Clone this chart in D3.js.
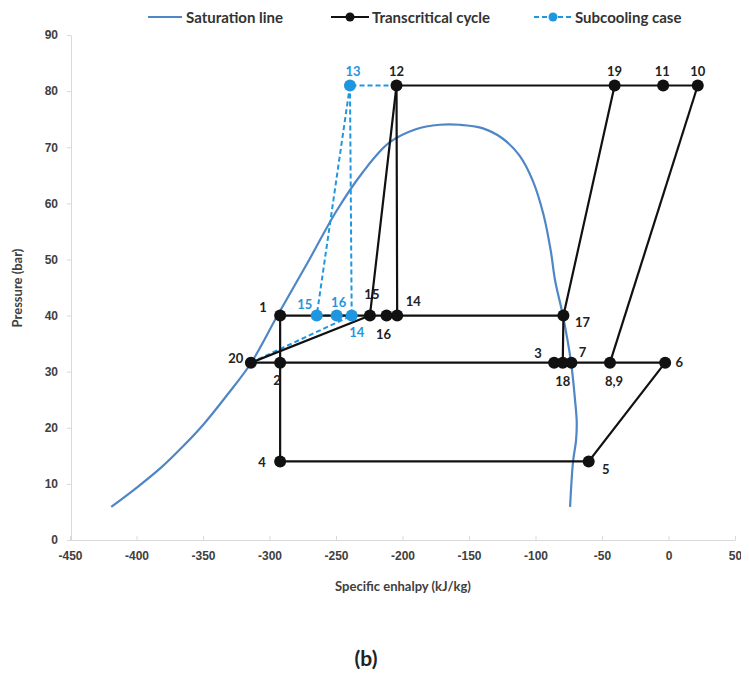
<!DOCTYPE html>
<html>
<head>
<meta charset="utf-8">
<script src="https://d3js.org/d3.v7.min.js"></script>
<style>
body { margin: 0; background: #fff; }
svg { font-family: Lato, "Open Sans", sans-serif; }
.tick text { font-size: 12px; font-weight: 700; fill: #404040; }
.axis path, .axis line { stroke: #d9d9d9; }
</style>
</head>
<body>
<svg id="chart"></svg>
<script>
// saturation dome
var satH = [-419, -400, -382, -365, -350, -332, -314, -294, -270, -250, -230, -210, -190, -172, -157, -140, -125, -112, -102, -94, -88.5, -85.3, -79.3, -73.3, -70.3, -69, -69.5, -71.8, -74];
var satP = [5.9, 9.3, 12.8, 16.7, 20.5, 25.8, 31.5, 40, 50, 58.5, 65.5, 70.8, 73.2, 74, 74, 73.4, 71.6, 68.5, 64, 58, 51.5, 46.3, 39.9, 31.7, 25, 21, 17.8, 13.9, 5.9];

// transcritical cycle state points
var cycleLabels = ["1", "2", "3", "4", "5", "6", "7", "8,9", "10", "11", "12", "14", "15", "16", "17", "18", "19", "20"];
var cycleH = [-292, -292, -86, -292, -60, -2.5, -73, -44, 22, -4, -204.5, -204, -224.5, -212, -79, -79.5, -40.5, -314];
var cycleP = [40, 31.6, 31.6, 14, 14, 31.6, 31.6, 31.6, 81, 81, 81, 40, 40, 40, 40, 31.6, 81, 31.6];
var cycleLines = [
  ["20", "2", "3", "18", "7", "8,9", "6"],
  ["1", "2", "4", "5", "6"],
  ["1", "15", "16", "14", "17"],
  ["20", "15", "12"],
  ["14", "12", "19", "11", "10"],
  ["19", "17", "18"],
  ["10", "8,9"]
];

// subcooling case state points (12 and 20 are shared with the cycle)
var subLabels = ["13", "15", "16", "14"];
var subH = [-239.5, -264.5, -249.5, -238.2];
var subP = [81, 40, 40, 40];
var subLines = [
  ["12", "13"],
  ["13", "15"],
  ["13", "14"],
  ["15", "16", "14"],
  ["20", "14"]
];

var xTicks = [-450, -400, -350, -300, -250, -200, -150, -100, -50, 0, 50];
var yTicks = [0, 10, 20, 30, 40, 50, 60, 70, 80, 90];

// label placement (offset from the marker)
var cycleOffsets = {
  "1": [-17, -9], "2": [-3, 17], "3": [-16, -10], "4": [-18, 1], "5": [17, 8],
  "6": [14, -1], "7": [11, -11], "8,9": [4, 18], "10": [0, -15], "11": [-1, -15],
  "12": [0, -15], "14": [16, -15], "15": [2, -22], "16": [-3, 18], "17": [19, 6],
  "18": [0, 18], "19": [0, -15], "20": [-15, -5]
};
var subOffsets = { "13": [3, -15], "15": [-12, -12], "16": [2, -14], "14": [5, 16] };

var black = "#111";
var blue = "#1f96e0";
var satColor = "#4f86c6";

var svg = d3.select("#chart").attr("width", 741).attr("height", 675);

var x = d3.scaleLinear().domain([-450, 50]).range([70, 735]);
var y = d3.scaleLinear().domain([0, 90]).range([540, 35]);

// axes
svg.append("g")
    .attr("class", "axis")
    .attr("transform", "translate(0,540)")
    .call(d3.axisBottom(x).tickValues(xTicks).tickFormat(function(d) { return String(d); })
        .tickSize(-4).tickPadding(14).tickSizeOuter(0))
    .selectAll("text").attr("dy", "0.5em");

svg.append("g")
    .attr("class", "axis")
    .attr("transform", "translate(71,0)")
    .call(d3.axisLeft(y).tickValues(yTicks).tickSize(4).tickPadding(9).tickSizeOuter(0));

svg.append("text")
    .attr("x", 403).attr("y", 591)
    .attr("text-anchor", "middle")
    .style("font-size", "13px").style("font-weight", 700).style("fill", "#404040")
    .text("Specific enhalpy (kJ/kg)");

svg.append("text")
    .attr("transform", "translate(22,288) rotate(-90)")
    .attr("text-anchor", "middle")
    .style("font-size", "13px").style("font-weight", 700).style("fill", "#404040")
    .text("Pressure (bar)");

// saturation line
var satLine = d3.line()
    .x(function(d, i) { return x(satH[i]); })
    .y(function(d, i) { return y(satP[i]); })
    .curve(d3.curveCatmullRom.alpha(0.5));

svg.append("path")
    .attr("d", satLine(satH))
    .attr("fill", "none")
    .attr("stroke", satColor)
    .attr("stroke-width", 2.2);

function pointOf(labels, hs, ps, name) {
  var i = labels.indexOf(name);
  return [x(hs[i]), y(ps[i])];
}

var line = d3.line();

// subcooling lines
subLines.forEach(function(seg) {
  var pts = seg.map(function(n) {
    if (subLabels.indexOf(n) >= 0) return pointOf(subLabels, subH, subP, n);
    return pointOf(cycleLabels, cycleH, cycleP, n);
  });
  svg.append("path")
      .attr("d", line(pts))
      .attr("fill", "none")
      .attr("stroke", blue)
      .attr("stroke-width", 2)
      .attr("stroke-dasharray", "5,3");
});

// cycle lines
cycleLines.forEach(function(seg) {
  var pts = seg.map(function(n) { return pointOf(cycleLabels, cycleH, cycleP, n); });
  svg.append("path")
      .attr("d", line(pts))
      .attr("fill", "none")
      .attr("stroke", black)
      .attr("stroke-width", 2.2);
});

// subcooling markers + labels
svg.selectAll(".subpt")
    .data(subLabels)
  .enter().append("circle")
    .attr("class", "subpt")
    .attr("cx", function(d, i) { return x(subH[i]); })
    .attr("cy", function(d, i) { return y(subP[i]); })
    .attr("r", 6)
    .attr("fill", blue);

svg.selectAll(".sublbl")
    .data(subLabels)
  .enter().append("text")
    .attr("class", "sublbl")
    .attr("x", function(d, i) { return x(subH[i]) + subOffsets[d][0]; })
    .attr("y", function(d, i) { return y(subP[i]) + subOffsets[d][1]; })
    .attr("text-anchor", "middle")
    .attr("dominant-baseline", "central")
    .style("font-size", "13px").style("font-weight", 700).style("fill", blue)
    .text(function(d) { return d; });

// cycle markers + labels
svg.selectAll(".cycpt")
    .data(cycleLabels)
  .enter().append("circle")
    .attr("class", "cycpt")
    .attr("cx", function(d, i) { return x(cycleH[i]); })
    .attr("cy", function(d, i) { return y(cycleP[i]); })
    .attr("r", 6)
    .attr("fill", black);

svg.selectAll(".cyclbl")
    .data(cycleLabels)
  .enter().append("text")
    .attr("class", "cyclbl")
    .attr("x", function(d, i) { return x(cycleH[i]) + cycleOffsets[d][0]; })
    .attr("y", function(d, i) { return y(cycleP[i]) + cycleOffsets[d][1]; })
    .attr("text-anchor", "middle")
    .attr("dominant-baseline", "central")
    .style("font-size", "13px").style("font-weight", 700).style("fill", "#222")
    .text(function(d) { return d; });

// legend
var legend = svg.append("g").style("font-size", "15px").style("font-weight", 700).style("fill", "#333");

legend.append("line").attr("x1", 148).attr("x2", 182).attr("y1", 17).attr("y2", 17)
    .attr("stroke", satColor).attr("stroke-width", 2.2);
legend.append("text").attr("x", 186).attr("y", 17).attr("dominant-baseline", "central").text("Saturation line");

legend.append("line").attr("x1", 331).attr("x2", 369).attr("y1", 17).attr("y2", 17)
    .attr("stroke", black).attr("stroke-width", 2.2);
legend.append("circle").attr("cx", 350).attr("cy", 17).attr("r", 4.5).attr("fill", black);
legend.append("text").attr("x", 372).attr("y", 17).attr("dominant-baseline", "central").text("Transcritical cycle");

legend.append("line").attr("x1", 534).attr("x2", 572).attr("y1", 17).attr("y2", 17)
    .attr("stroke", blue).attr("stroke-width", 2).attr("stroke-dasharray", "5,3");
legend.append("circle").attr("cx", 553).attr("cy", 17).attr("r", 4.5).attr("fill", blue);
legend.append("text").attr("x", 575).attr("y", 17).attr("dominant-baseline", "central").text("Subcooling case");

// panel tag
svg.append("text")
    .attr("x", 366).attr("y", 657)
    .attr("text-anchor", "middle")
    .attr("dominant-baseline", "central")
    .style("font-size", "21px").style("font-weight", 700).style("fill", "#222")
    .text("(b)");
</script>
</body>
</html>
